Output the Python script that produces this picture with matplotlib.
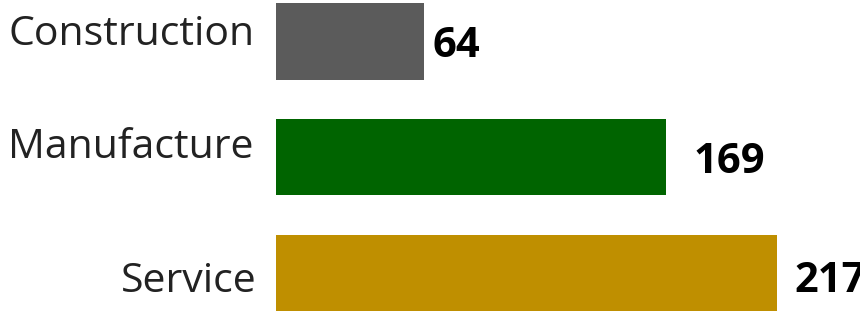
import matplotlib
matplotlib.use("Agg")
import matplotlib.pyplot as plt

# sectors, bottom to top
sectors = ["Service", "Manufacture", "Construction"]
counts = [217, 169, 64]
colors = ["#BF8F00", "#006400", "#5B5B5B"]

# label nudges in pixels (x, y of the baseline relative to bar end / bar centre)
name_dx = [-19, -23, -21]
name_dy = [-19, -0.5, -3.5]
value_dx = [17, 27, 9]
value_dy = [-19, -15.5, -15.5]

fig = plt.figure(figsize=(8.6, 3.11), dpi=100)
ax = fig.add_axes([276 / 860, 0, 1 - 276 / 860, 1])

ypos = list(range(len(sectors)))
ax.barh(ypos, counts, height=0.66, color=colors)

for y, name, c, ndx, ndy, vdx, vdy in zip(ypos, sectors, counts,
                                          name_dx, name_dy, value_dx, value_dy):
    ax.annotate(name, xy=(0, y), xytext=(ndx, ndy), textcoords="offset pixels",
                ha="right", va="baseline", fontsize=29.5, family="Open Sans",
                color="#222222", annotation_clip=False)
    ax.annotate(str(c), xy=(c, y), xytext=(vdx, vdy), textcoords="offset pixels",
                ha="left", va="baseline", fontsize=30, fontweight="bold",
                family="Open Sans", color="black", annotation_clip=False)

ax.set_xlim(0, 584 / 2.31)
ax.set_ylim(-0.328, 2.358)
ax.set_xticks([])
ax.set_yticks([])
for s in ax.spines.values():
    s.set_visible(False)

fig.savefig("out.png", dpi=100)
